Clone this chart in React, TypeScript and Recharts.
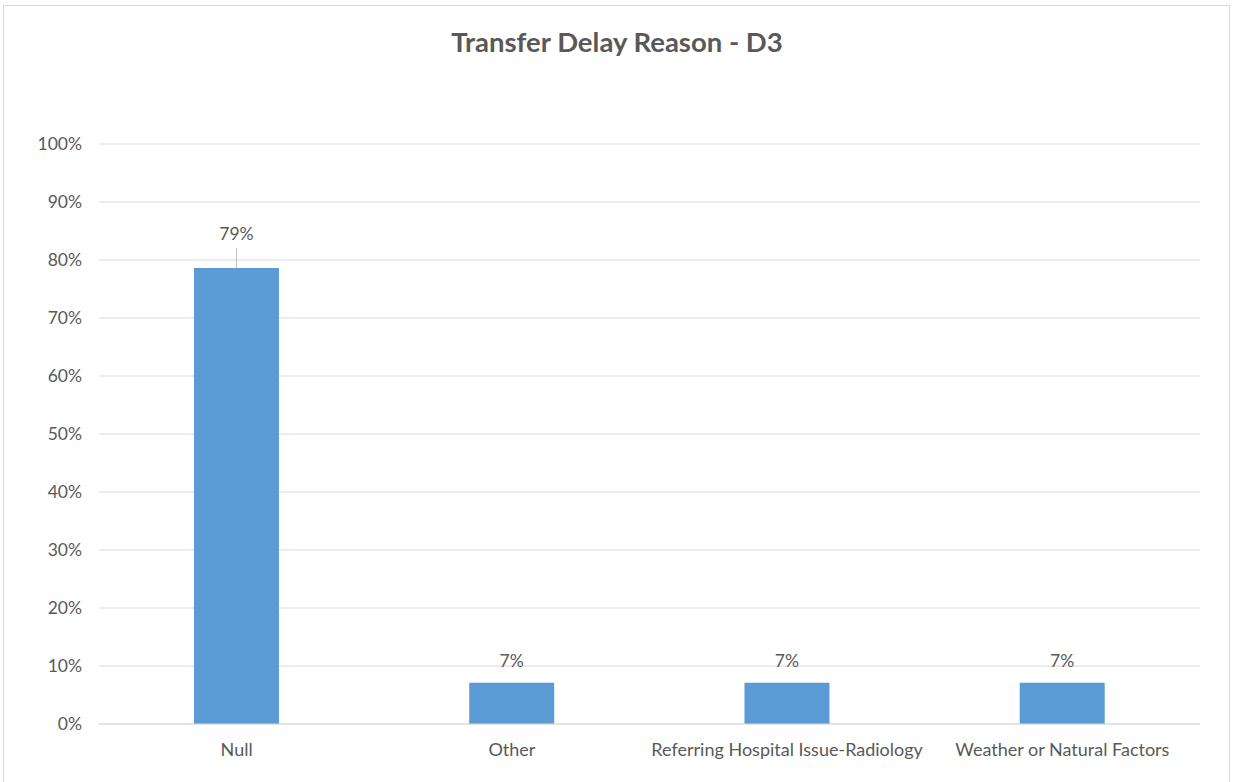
import React from 'react'
import { BarChart, Bar, XAxis, YAxis, CartesianGrid, LabelList } from 'recharts'

const categories = ['Null', 'Other', 'Referring Hospital Issue-Radiology', 'Weather or Natural Factors']
const shares = [78.6, 7.1, 7.1, 7.1]
const yTicks = [0, 10, 20, 30, 40, 50, 60, 70, 80, 90, 100]

const data = categories.map((name, i) => ({ name, value: shares[i] }))

const textColor = '#595959'
const font = 'Lato, "Open Sans", sans-serif'

// Excel-style data label; the tall bar gets a leader line
const BarLabel = (props: any) => {
  const { x, y, width, value, index } = props
  const cx = x + width / 2
  const text = `${Math.round(value)}%`
  if (index === 0) {
    return (
      <g>
        <line x1={cx} x2={cx} y1={y - 20} y2={y} stroke="#bfbfbf" strokeWidth={1} />
        <text x={cx} y={y - 28} textAnchor="middle" fill={textColor} fontSize={17.5} fontFamily={font}>
          {text}
        </text>
      </g>
    )
  }
  return (
    <text x={cx} y={y - 16} textAnchor="middle" fill={textColor} fontSize={17.5} fontFamily={font}>
      {text}
    </text>
  )
}

export default function App() {
  return (
    <div style={{ position: 'fixed', left: 0, top: 0, width: 1238, height: 782, background: '#fff', overflow: 'hidden' }}>
      <div
        style={{
          position: 'absolute',
          left: 3,
          top: 5,
          width: 1225,
          height: 800,
          border: '1.5px solid #d9d9d9',
        }}
      />
      <div
        style={{
          position: 'absolute',
          left: 0,
          width: 1234,
          top: 25,
          textAlign: 'center',
          fontFamily: font,
          fontWeight: 700,
          fontSize: 27.5,
          color: textColor,
        }}
      >
        Transfer Delay Reason - D3
      </div>
      <div style={{ position: 'absolute', left: 0, top: 0 }}>
        <BarChart
          width={1238}
          height={782}
          data={data}
          margin={{ top: 144, right: 38, bottom: 28, left: 39 }}
          barCategoryGap="34.5%"
        >
          <CartesianGrid vertical={false} stroke="#d9d9d9" />
          <XAxis
            dataKey="name"
            height={30}
            tickLine={false}
            axisLine={{ stroke: '#d9d9d9' }}
            tickMargin={13}
            interval={0}
            tick={{ fill: textColor, fontSize: 18, fontFamily: font }}
          />
          <YAxis
            width={60}
            domain={[0, 100]}
            ticks={yTicks}
            tickFormatter={(v) => `${v}%`}
            axisLine={false}
            tickLine={false}
            tickMargin={11}
            tick={{ fill: textColor, fontSize: 17.5, fontFamily: font }}
          />
          <Bar dataKey="value" fill="#5b9bd5" isAnimationActive={false}>
            <LabelList dataKey="value" content={<BarLabel />} />
          </Bar>
        </BarChart>
      </div>
    </div>
  )
}
